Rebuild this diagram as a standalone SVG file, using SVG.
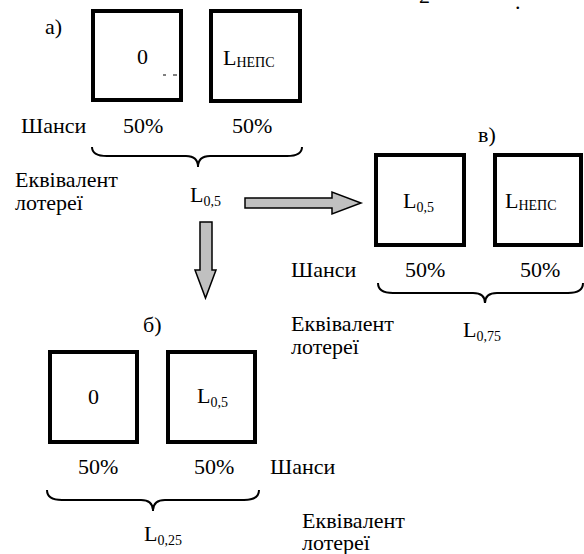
<svg xmlns="http://www.w3.org/2000/svg" width="584" height="554" viewBox="0 0 584 554" style="font-family:'Liberation Serif',serif">
<style>
text{font-family:'Liberation Serif',serif !important;font-size:22px;fill:#000}
tspan{font-family:'Liberation Serif',serif !important}
.sub{font-size:14px}
.box{fill:#fff;stroke:#000;stroke-width:4}
.brace{fill:none;stroke:#000;stroke-width:2}
.arr{fill:#c0c0c0;stroke:#000;stroke-width:1.5;stroke-linejoin:miter}
</style>
<rect width="584" height="554" fill="#fff"/>
<g id="top-fragments">
<text style="font-family:'Liberation Serif',serif" x="419" y="3">2</text>
<text style="font-family:'Liberation Serif',serif" x="515" y="9">.</text>
</g>
<g id="part-a">
<text style="font-family:'Liberation Serif',serif" x="45" y="34">а)</text>
<g id="a-box-0"><rect class="box" x="93" y="11" width="88" height="89"/><text style="font-family:'Liberation Serif',serif" x="137" y="64">0</text>
<line x1="163" y1="75" x2="166" y2="75" stroke="#000" stroke-width="1"/><line x1="173" y1="75" x2="177" y2="75" stroke="#000" stroke-width="1"/></g>
<g id="a-box-lneps"><rect class="box" x="211" y="11" width="89" height="90"/><text style="font-family:'Liberation Serif',serif" x="223" y="65">L<tspan class="sub" dy="2">НЕПС</tspan></text></g>
<text style="font-family:'Liberation Serif',serif" x="21" y="133">Шанси</text>
<text style="font-family:'Liberation Serif',serif" x="123" y="133">50%</text>
<text style="font-family:'Liberation Serif',serif" x="232" y="133">50%</text>
<path class="brace" d="M92 147 Q92 156 107 156 L186 156 Q198 156 198 167 Q198 156 210 156 L287 156 Q302 156 302 147"/>
<text style="font-family:'Liberation Serif',serif" x="15" y="187">Еквівалент</text>
<text style="font-family:'Liberation Serif',serif" x="15" y="210">лотереї</text>
<text style="font-family:'Liberation Serif',serif" x="190" y="202">L<tspan class="sub" dy="4">0,5</tspan></text>
</g>
<g id="connectors">
<path class="arr" d="M245 198 L332 198 L332 192 L361 203 L332 214 L332 208 L245 208 Z"/>
<path class="arr" d="M200 222 L212 222 L212 270 L216 270 L205.5 298 L195 270 L200 270 Z"/>
</g>
<g id="part-v">
<text style="font-family:'Liberation Serif',serif" x="478" y="142">в)</text>
<g id="v-box-l05"><rect class="box" x="376" y="155" width="88" height="90"/><text style="font-family:'Liberation Serif',serif" x="403" y="208">L<tspan class="sub" dy="4">0,5</tspan></text></g>
<g id="v-box-lneps"><rect class="box" x="495" y="155" width="86" height="90"/><text style="font-family:'Liberation Serif',serif" x="505" y="208">L<tspan class="sub" dy="2">НЕПС</tspan></text></g>
<text style="font-family:'Liberation Serif',serif" x="291" y="277">Шанси</text>
<text style="font-family:'Liberation Serif',serif" x="405" y="277">50%</text>
<text style="font-family:'Liberation Serif',serif" x="520" y="277">50%</text>
<path class="brace" d="M378 283 Q378 293 393 293 L473 293 Q485 293 485 303 Q485 293 497 293 L568 293 Q583 293 583 283"/>
<text style="font-family:'Liberation Serif',serif" x="291" y="331">Еквівалент</text>
<text style="font-family:'Liberation Serif',serif" x="291" y="354">лотереї</text>
<text style="font-family:'Liberation Serif',serif" x="463" y="337">L<tspan class="sub" dy="4">0,75</tspan></text>
</g>
<g id="part-b">
<text style="font-family:'Liberation Serif',serif" x="143" y="332">б)</text>
<g id="b-box-0"><rect class="box" x="50" y="352" width="87" height="90"/><text style="font-family:'Liberation Serif',serif" x="88" y="404">0</text></g>
<g id="b-box-l05"><rect class="box" x="168" y="352" width="87" height="90"/><text style="font-family:'Liberation Serif',serif" x="197" y="403">L<tspan class="sub" dy="4">0,5</tspan></text></g>
<text style="font-family:'Liberation Serif',serif" x="78" y="474">50%</text>
<text style="font-family:'Liberation Serif',serif" x="194" y="474">50%</text>
<text style="font-family:'Liberation Serif',serif" x="270" y="474">Шанси</text>
<path class="brace" d="M47 490 Q47 500 62 500 L141 500 Q153 500 153 511 Q153 500 165 500 L244 500 Q259 500 259 490"/>
<text style="font-family:'Liberation Serif',serif" x="144" y="541">L<tspan class="sub" dy="4">0,25</tspan></text>
<text style="font-family:'Liberation Serif',serif" x="302" y="528">Еквівалент</text>
<text style="font-family:'Liberation Serif',serif" x="302" y="550">лотереї</text>
</g>
</svg>
